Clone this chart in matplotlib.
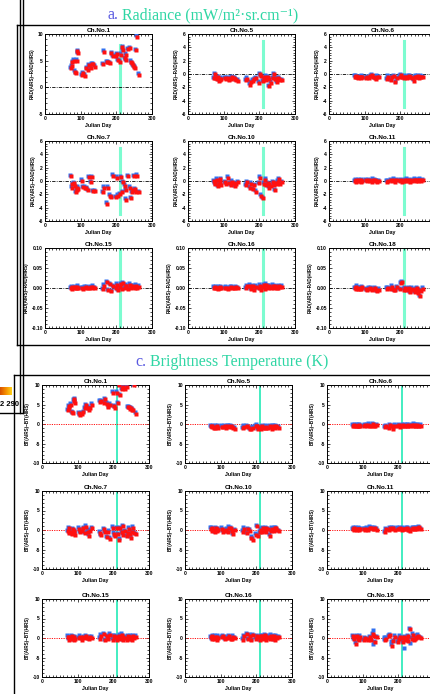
import numpy as np
import matplotlib
matplotlib.use("Agg")
from matplotlib import pyplot as plt
from matplotlib.lines import Line2D
from matplotlib.colors import LinearSegmentedColormap
from matplotlib.ticker import AutoMinorLocator, MultipleLocator, FormatStrFormatter
from matplotlib.transforms import offset_copy

W, H = 431, 694

# observation days (Julian day) shared by all channels
days = [72, 75, 77, 80, 84, 86, 89, 91, 93, 103, 107, 112, 116, 121, 124, 128,
        131, 135, 140, 163, 166, 173, 177, 182, 186, 191, 198, 202, 205, 210,
        214, 217, 219, 224, 226, 228, 233, 238, 240, 244, 247, 250, 252, 254,
        258, 263]

channels = ["Ch.No.1", "Ch.No.5", "Ch.No.6", "Ch.No.7", "Ch.No.10", "Ch.No.11",
            "Ch.No.15", "Ch.No.16", "Ch.No.18"]

# radiance differences RAD(AIRS)-RAD(HIRS)
rad_ch1 = [3.6, 4.0, 4.7, 5.0, 2.9, 2.6, 5.0, 6.8, 6.4, 2.3, 2.6, 2.2, 3.6, 3.3, 4.1, 3.6,
           4.3, 4.3, 3.9, 4.3, 6.7, 4.7, 4.7, 4.5, 6.4, 5.8, 5.8, 6.2, 5.1, 4.8,
           6.1, 7.5, 7.0, 5.5, 6.1, 5.1, 7.2, 7.3, 4.8, 4.5, 4.2, 3.9, 3.7, 7.0, 9.5, 2.4]
rad_ch5 = [-0.6, 0.0, -0.6, -0.8, -0.5, -1.0, -0.9, -0.7, -0.8, -0.6, -0.7, -0.6, -0.9, -0.7, -0.5, -0.6,
           -0.7, -0.9, -1.0, -0.9, -0.7, -1.6, -1.2, -1.0, -0.8, -0.6, -1.3, 0.0, -0.3, -1.1,
           -0.6, -0.4, -0.9, -0.5, -1.8, -0.8, -1.3, -0.6, 0.0, -0.7, -0.8, -1.2, -0.6, -0.7, -0.9, -0.9]
rad_ch6 = [-0.4, -0.3, -0.5, -0.6, -0.5, -0.5, -0.6, -0.5, -0.4, -0.6, -0.5, -0.6, -0.3, -0.2, -0.5, -0.6,
           -0.7, -0.4, -0.5, -0.8, -0.4, -0.9, -0.5, -0.3, -1.2, -0.6, -0.4, -0.2, -0.5, -0.6,
           -0.4, -0.5, -0.6, -0.3, -0.5, -0.4, -0.6, -1.0, -0.5, -0.4, -0.5, -0.3, -0.6, -0.5, -0.4, -0.5]
rad_ch7 = [0.7, -1.0, -0.5, -0.3, -0.7, -1.7, -1.4, -1.0, -1.2, 0.05, -0.9, -1.0, -1.1, -1.4, 0.6, -0.2,
           0.6, -1.5, -1.5, -1.7, -1.0, -3.4, -1.0, -2.2, -2.4, 0.8, -2.4, 0.5, -2.2, -2.0,
           0.6, -1.7, -0.2, -0.7, -1.4, -2.8, 0.7, -1.0, -2.6, -1.7, -1.4, 0.7, -1.2, -1.7, 0.8, -1.7]
rad_ch10 = [0.0, -0.3, -0.5, 0.2, -0.8, -0.4, -0.2, 0.3, -0.6, -0.2, -0.4, 0.5, -0.3, -0.6, -0.1, -0.3,
            -0.8, -0.5, -0.2, -0.6, -0.2, -1.0, -0.4, -1.2, -0.6, -1.6, -0.3, 0.5, -2.2, -2.6,
            -0.4, 0.2, -0.6, -0.3, -1.0, -0.5, -0.8, -0.2, -0.6, -1.4, -0.3, -0.5, -0.1, 0.3, -0.4, -0.2]
rad_ch11 = [0.0, 0.1, -0.1, 0.0, 0.1, 0.0, -0.1, 0.1, 0.0, 0.1, 0.0, 0.1, 0.0, -0.1, 0.2, 0.1,
            0.0, -0.1, 0.0, -0.1, 0.0, 0.1, 0.0, 0.2, -0.1, 0.1, 0.0, 0.1, -0.1, 0.0,
            0.1, 0.0, 0.2, 0.0, 0.1, -0.1, 0.0, 0.1, 0.2, 0.0, 0.1, 0.0, 0.1, 0.2, 0.0, 0.1]
rad_ch15 = [0.0, 0.002, -0.002, 0.0, 0.002, -0.001, 0.0, 0.003, 0.0, 0.0, -0.002, 0.001, 0.002, 0.0, -0.001, 0.002,
            0.0, 0.003, 0.0, -0.003, 0.006, 0.015, -0.005, 0.01, -0.008, 0.004, 0.0, 0.008, -0.006, 0.002,
            0.01, -0.003, 0.012, 0.0, 0.004, 0.006, -0.002, 0.008, 0.0, 0.005, 0.002, 0.003, 0.0, 0.006, 0.001, 0.003]
rad_ch16 = [0.001, -0.001, 0.002, 0.0, -0.002, 0.001, 0.0, 0.002, -0.001, 0.0, 0.001, -0.002, 0.0, 0.002, 0.001, -0.001,
            0.0, 0.002, -0.001, 0.0, 0.004, 0.006, -0.003, 0.005, -0.004, 0.003, 0.0, 0.006, -0.004, 0.002,
            0.007, -0.002, 0.008, 0.0, 0.003, 0.005, -0.001, 0.006, 0.0, 0.004, 0.002, 0.001, 0.0, 0.005, 0.002, 0.003]
rad_ch18 = [0.0, -0.002, 0.003, -0.002, 0.0, -0.003, 0.0, -0.002, 0.002, -0.003, -0.005, -0.002, 0.0, -0.004, -0.003, 0.0,
            -0.006, -0.008, -0.004, -0.002, 0.0, -0.003, 0.003, -0.005, -0.006, 0.002, -0.003, 0.012, 0.015, -0.004,
            0.0, -0.006, -0.003, 0.0, -0.008, -0.01, -0.002, -0.005, -0.01, -0.003, 0.0, -0.012, -0.005, -0.02, -0.008, -0.002]

# brightness temperature differences BT(AIRS)-BT(HIRS), K
bt_ch1 = [3.5, 4.5, 4.2, 5.0, 3.0, 2.8, 6.0, 6.4, 5.5, 2.8, 2.3, 2.6, 3.0, 4.0, 4.9, 4.2,
          3.7, 4.0, 5.0, 5.7, 5.8, 5.5, 6.3, 5.2, 4.3, 5.0, 8.0, 4.5, 4.2, 8.0,
          5.4, 10.0, 7.4, 8.9, 9.4, 9.3, 9.1, 9.4, 4.3, 4.3, 3.9, 4.1, 3.7, 3.5, 10.0, 2.6]
bt_ch5 = [-0.6, -0.8, -0.5, -0.9, -1.0, -0.7, -0.8, -0.6, -0.9, -0.7, -0.8, -0.6, -0.9, -0.5, -0.7, -0.6,
          -0.8, -0.9, -1.2, -1.0, -0.7, -0.5, -0.8, -1.4, -1.2, -0.9, -0.5, -0.4, -1.3, -0.8,
          -1.2, -0.6, -0.9, -1.1, -0.7, -0.9, -1.0, -0.6, -0.8, -1.2, -0.7, -0.6, -0.9, -0.5, -0.8, -0.9]
bt_ch6 = [-0.4, -0.5, -0.3, -0.6, -0.4, -0.5, -0.3, -0.5, -0.4, -0.5, -0.3, -0.4, -0.2, -0.5, -0.4, -0.1,
          -0.4, -0.6, -0.3, -0.8, -0.5, -1.0, -0.3, -0.6, -1.2, -0.4, -0.5, -0.3, -0.7, -0.5,
          -0.3, -0.6, -0.4, -0.5, -0.3, -0.4, -0.5, -0.3, -0.5, -0.2, -0.4, -0.5, -0.3, -0.4, -0.5, -0.4]
bt_ch7 = [-0.3, 0.5, -0.8, -0.4, -1.0, 0.2, -0.6, -0.3, -1.2, 0.3, -0.5, -0.2, 0.4, -0.8, 0.8, -0.4,
          -1.5, -0.2, 0.5, -0.7, -1.3, 0.2, -0.6, -1.8, -0.4, -2.2, 0.6, -0.9, -1.6, 0.4,
          -1.0, -2.5, 0.5, -0.5, -1.2, 0.9, -0.3, -1.6, -0.8, 0.3, -1.0, -2.0, -0.4, 0.6, -0.7, -1.1]
bt_ch10 = [0.3, 0.5, -0.2, 0.1, -0.6, 0.4, -0.3, 0.2, -0.1, 0.3, -0.4, -0.2, 0.1, -0.5, 0.6, 0.4,
           -0.3, -1.0, 0.0, -0.4, 0.3, -0.8, 0.2, -0.2, -2.0, -2.5, -1.2, 0.9, -1.5, -0.5,
           0.1, -0.4, 0.4, -0.2, -0.6, 0.5, 0.2, -1.5, -0.3, 0.3, 0.0, -0.2, 0.5, 0.4, -0.1, -0.3]
bt_ch11 = [0.2, 0.4, 0.1, 0.3, 0.0, 0.2, 0.3, 0.1, 0.2, 0.2, 0.1, 0.3, 0.0, 0.6, 0.5, 0.3,
           0.2, 0.4, 0.1, -0.5, 0.2, 0.0, 0.4, 0.3, 0.5, 0.1, 0.3, 0.2, 0.4, 0.1,
           0.3, 0.2, 0.2, 0.4, 0.1, 0.3, -0.3, 0.2, 0.4, 0.3, 0.2, 0.5, 0.3, 0.4, 0.7, 0.2]
bt_ch15 = [0.3, -0.4, 0.2, -0.3, 0.5, 0.1, -0.5, 0.2, -0.2, 0.0, 0.3, -0.4, 0.2, -0.1, 0.4, 0.0,
           -0.3, 0.2, 0.1, -0.2, 0.6, 1.0, -0.5, 0.4, -0.3, 0.8, -0.4, 0.5, 0.3, -0.6,
           0.2, 0.6, -0.3, 0.8, -0.5, 0.3, 0.1, -0.4, 0.5, 0.2, -0.2, 0.3, -0.6, 0.4, 0.0, 0.3]
bt_ch16 = [0.2, -0.3, 0.4, -0.2, 0.3, 0.0, -0.4, 0.3, -0.1, 0.2, 0.4, -0.3, 0.1, 0.0, 0.5, -0.2,
           -0.2, 0.3, 0.0, -0.4, 0.5, 0.9, -0.3, 0.6, -0.5, 0.7, -0.2, 0.4, 0.2, -0.5,
           0.4, 0.5, -0.2, 0.7, -0.4, 0.2, 0.3, -0.3, 0.6, 0.1, -0.3, 0.4, -0.5, 0.3, 0.1, 0.2]
bt_ch18 = [0.5, -0.3, 0.2, -1.5, 0.4, -0.2, 0.0, -0.5, 0.3, -0.6, 0.0, -0.3, -0.5, 0.2, -0.4, 1.0,
           0.5, -1.0, 0.2, -0.5, -0.2, 0.5, 0.7, -2.0, -0.8, 0.3, -1.0, -0.3, 0.3, 0.0,
           -1.0, 0.2, -0.5, 0.0, 0.5, -0.8, 2.2, -0.2, 0.8, -0.5, -0.3, 0.0, 0.3, 0.6, 0.2, 0.0]
# extra AIRS-blue points that stand apart in Ch.No.18 BT
bt_ch18_blue_days = [86, 128, 128, 180, 215, 233, 160]
bt_ch18_blue_vals = [0.5, 2.0, -1.6, -0.8, -2.6, -1.3, 0.2]

rad_data = [rad_ch1, rad_ch5, rad_ch6, rad_ch7, rad_ch10, rad_ch11, rad_ch15, rad_ch16, rad_ch18]
bt_data = [bt_ch1, bt_ch5, bt_ch6, bt_ch7, bt_ch10, bt_ch11, bt_ch15, bt_ch16, bt_ch18]

plt.rcParams['font.family'] = ['Liberation Sans', 'DejaVu Sans']

fig = plt.figure(figsize=(W / 100, H / 100), dpi=100)


def px_axes(left, top, w, h):
    return fig.add_axes([left / W, 1 - (top + h) / H, w / W, h / H])


def fline(x0, y0, x1, y1, lw=1.0):
    fig.add_artist(Line2D([x0 / W, x1 / W], [1 - y0 / H, 1 - y1 / H],
                          transform=fig.transFigure, color='black', lw=lw))


def style_axes(ax, title, ylabel, ymin, ymax, ymajor, fmt):
    ax.set_xlim(0, 300)
    ax.set_ylim(ymin, ymax)
    ax.xaxis.set_major_locator(MultipleLocator(100))
    ax.xaxis.set_minor_locator(AutoMinorLocator(10))
    ax.yaxis.set_major_locator(MultipleLocator(ymajor))
    ax.yaxis.set_minor_locator(AutoMinorLocator(5))
    ax.yaxis.set_major_formatter(FormatStrFormatter(fmt))
    ax.tick_params(which='both', direction='in', top=True, right=True, width=0.5)
    ax.tick_params(which='major', length=2.5, labelsize=3.6, pad=1.5)
    ax.tick_params(which='minor', length=1.2)
    for lab in ax.get_xticklabels() + ax.get_yticklabels():
        lab.set_fontweight('bold')
    for s in ax.spines.values():
        s.set_linewidth(0.7)
    ax.set_title(title, fontsize=4.6, fontweight='bold', pad=1.5)
    ax.set_xlabel('Julian Day', fontsize=3.8, fontweight='bold', labelpad=1.5)
    ax.set_ylabel(ylabel, fontsize=3.3, fontweight='bold', labelpad=2)


def scatter_pair(ax, x, y):
    blue_tr = offset_copy(ax.transData, fig=fig, x=-0.6, y=1.0, units='points')
    ax.plot(x, y, 's', ms=3.3, color='#3070f0', mec='none', transform=blue_tr,
            clip_on=True, zorder=3)
    ax.plot(x, y, 's', ms=3.3, color='#ff1010', mec='none', zorder=4)


# ---- a. Radiance ----
rad_lefts = [45, 188, 329]
rad_tops = [34, 141, 248]
rad_limits = [(-5, 10, 5, '%d'), (-6, 6, 2, '%d'), (-6, 6, 2, '%d'),
              (-6, 6, 2, '%d'), (-6, 6, 2, '%d'), (-6, 6, 2, '%d'),
              (-0.1, 0.1, 0.05, '%.2f'), (-0.1, 0.1, 0.05, '%.2f'), (-0.1, 0.1, 0.05, '%.2f')]
rad_vspan = [(-5, 8), (-5, 5), (-5, 5), (-5, 5), (-5, 5), (-5, 5),
             (-0.1, 0.1), (-0.1, 0.1), (-0.1, 0.1)]
for i, vals in enumerate(rad_data):
    ax = px_axes(rad_lefts[i % 3], rad_tops[i // 3], 107, 80)
    ymin, ymax, step, fmt = rad_limits[i]
    ax.axhline(0, color='black', lw=0.6, ls=(0, (4, 1.5, 1, 1.5)), zorder=2)
    ax.plot([210, 210], rad_vspan[i], color='#7dfcd0', lw=2.2, zorder=1)
    scatter_pair(ax, days, vals)
    style_axes(ax, channels[i], 'RAD(AIRS)\u2212RAD(HIRS)', ymin, ymax, step, fmt)

# ---- c. Brightness Temperature ----
bt_lefts = [42, 185, 327]
bt_tops = [385, 491, 599]
for i, vals in enumerate(bt_data):
    ax = px_axes(bt_lefts[i % 3], bt_tops[i // 3], 107, 78)
    ax.axhline(0, color='#ff1010', lw=0.7, ls=(0, (1.2, 1.2)), zorder=2)
    ax.axvline(210, color='#10e8b0', lw=1.1, zorder=1)
    if i == 8:
        ax.plot(bt_ch18_blue_days, bt_ch18_blue_vals, 's', ms=3.3, color='#3070f0',
                mec='none', zorder=3)
    scatter_pair(ax, days, vals)
    style_axes(ax, channels[i], 'BT(AIRS)\u2212BT(HIRS)', -10, 10, 5, '%d')

# ---- panel titles ----
serif = ['Liberation Serif', 'DejaVu Serif']
fig.text(118 / W, 1 - 15 / H, 'a.', ha='right', va='center', fontsize=11.5,
         color='#5a5ae0', family=serif)
fig.text(122 / W, 1 - 15 / H, 'Radiance (mW/m\u00b2\u00b7sr.cm\u207b\u00b9)', ha='left',
         va='center', fontsize=11.5, color='#2fd6a4', family=serif)
fig.text(146 / W, 1 - 362 / H, 'c.', ha='right', va='center', fontsize=11.5,
         color='#5a5ae0', family=serif)
fig.text(150 / W, 1 - 362 / H, 'Brightness Temperature (K)', ha='left',
         va='center', fontsize=11.5, color='#2fd6a4', family=serif)

# ---- frames of the collage ----
fline(20, 0, 20, 413)
fline(23, 0, 23, 413)
fline(17, 25, 431, 25)
fline(17, 25, 17, 345)
fline(17, 345, 431, 345)
fline(14, 375, 431, 375)
fline(14, 375, 14, 694)
fline(0, 413, 23, 413)

# fragment of a colour bar at the left edge
bar_cmap = LinearSegmentedColormap.from_list('bar', ['#d85000', '#f59000', '#ffd21a'])
cbar = np.linspace(0, 1, 40).reshape(1, -1)
cax = fig.add_axes([0, 1 - 395 / H, 12 / W, 8 / H])
cax.imshow(cbar, aspect='auto', cmap=bar_cmap)
cax.set_axis_off()
fig.text(0 / W, 1 - 404 / H, '2 290', ha='left', va='center', fontsize=5.5,
         fontweight='bold')

fig.savefig('out.png', dpi=100)
